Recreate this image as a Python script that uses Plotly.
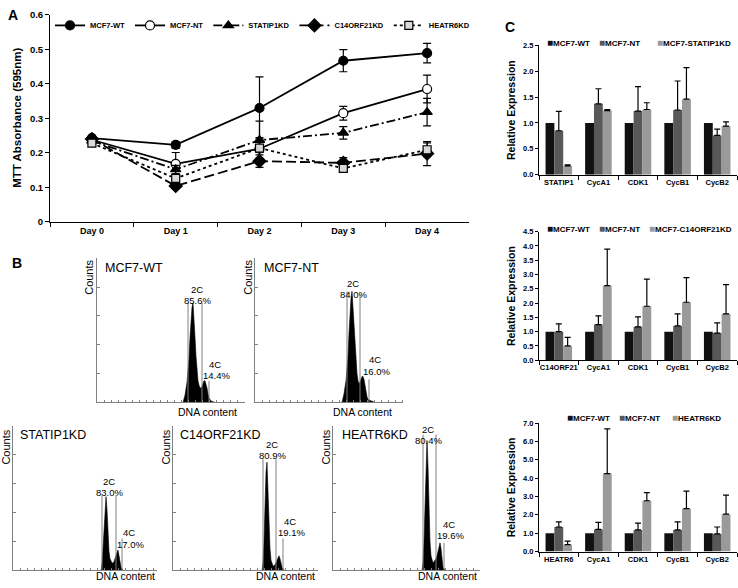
import plotly.graph_objects as go

W, H = 738, 588
FONT = "Liberation Sans, Arial, sans-serif"


def px(x):
    return x / W


def py(y):
    return 1 - y / H


# ---------------- Panel A data (MTT assay) ----------------
days = ["Day 0", "Day 1", "Day 2", "Day 3", "Day 4"]
mtt_names = ["MCF7-WT", "MCF7-NT", "STATIP1KD", "C14ORF21KD", "HEATR6KD"]
wt_mean = [0.243, 0.223, 0.330, 0.467, 0.489]
wt_err = [0.005, 0.010, 0.090, 0.032, 0.028]
nt_mean = [0.238, 0.168, 0.212, 0.315, 0.385]
nt_err = [0.005, 0.033, 0.010, 0.020, 0.040]
statip1_mean = [0.235, 0.152, 0.237, 0.258, 0.318]
statip1_err = [0.005, 0.012, 0.055, 0.018, 0.040]
c14_mean = [0.240, 0.104, 0.176, 0.171, 0.198]
c14_err = [0.005, 0.006, 0.018, 0.015, 0.035]
heatr6_mean = [0.228, 0.126, 0.214, 0.155, 0.209]
heatr6_err = [0.005, 0.010, 0.030, 0.008, 0.020]

# ---------------- Panel B data (cell-cycle histograms) ----------------
hist_titles = ["MCF7-WT", "MCF7-NT", "STATIP1KD", "C14ORF21KD", "HEATR6KD"]
pct_2c = ["85.6%", "84.0%", "83.0%", "80.9%", "80.4%"]
pct_4c = ["14.4%", "16.0%", "17.0%", "19.1%", "19.6%"]

wt_chan = [86, 88, 90, 92, 93, 94, 95, 96, 97, 98, 99, 100, 101, 102, 103, 104, 105, 106, 107, 108, 109, 110, 111, 112, 114, 118]
wt_cnt = [0.0, 0.05, 0.14, 0.30, 0.45, 0.58, 0.66, 0.69, 0.60, 0.45, 0.32, 0.22, 0.15, 0.12, 0.10, 0.10, 0.11, 0.13, 0.15, 0.15, 0.13, 0.10, 0.06, 0.03, 0.01, 0.0]
nt_chan = [87, 89, 91, 93, 94, 95, 96, 97, 98, 99, 100, 101, 102, 103, 104, 105, 106, 107, 108, 109, 110, 111, 112, 113, 116, 120]
nt_cnt = [0.0, 0.06, 0.15, 0.32, 0.48, 0.62, 0.72, 0.77, 0.65, 0.50, 0.37, 0.27, 0.20, 0.15, 0.13, 0.14, 0.16, 0.18, 0.18, 0.16, 0.12, 0.07, 0.04, 0.02, 0.01, 0.0]
statip1_chan = [88, 89, 90, 91, 92, 93, 94, 95, 96, 97, 98, 99, 100, 101, 102, 103, 104, 105, 106, 107, 108, 110]
statip1_cnt = [0.0, 0.05, 0.15, 0.30, 0.45, 0.51, 0.42, 0.25, 0.13, 0.08, 0.06, 0.05, 0.05, 0.06, 0.08, 0.10, 0.13, 0.14, 0.10, 0.05, 0.02, 0.0]
c14_chan = [89, 90, 91, 92, 93, 94, 95, 96, 97, 98, 99, 100, 101, 102, 103, 104, 105, 106, 107, 108, 109, 111]
c14_cnt = [0.0, 0.05, 0.20, 0.45, 0.68, 0.75, 0.55, 0.30, 0.15, 0.07, 0.04, 0.03, 0.03, 0.04, 0.05, 0.07, 0.09, 0.10, 0.08, 0.04, 0.02, 0.0]
heatr6_chan = [89, 90, 91, 92, 93, 94, 95, 96, 97, 98, 99, 100, 101, 102, 103, 104, 105, 106, 107, 108, 109, 110, 112]
heatr6_cnt = [0.0, 0.05, 0.20, 0.50, 0.80, 0.90, 0.72, 0.42, 0.20, 0.10, 0.06, 0.05, 0.06, 0.07, 0.08, 0.10, 0.14, 0.18, 0.19, 0.15, 0.07, 0.02, 0.0]

# gate markers: channel positions and heights
wt_gate_chan = [91, 105, 112]
wt_gate_h = [0.69, 0.69, 0.15]
nt_gate_chan = [92, 105, 114]
nt_gate_h = [0.77, 0.75, 0.16]
statip1_gate_chan = [89, 103, 109]
statip1_gate_h = [0.52, 0.52, 0.22]
c14_gate_chan = [90, 103, 110]
c14_gate_h = [0.77, 0.77, 0.22]
heatr6_gate_chan = [90, 103, 111]
heatr6_gate_h = [0.94, 0.94, 0.19]

# ---------------- Panel C data (qPCR) ----------------
bar_groups = ["MCF7-WT", "MCF7-NT"]
c1_genes = ["STATIP1", "CycA1", "CDK1", "CycB1", "CycB2"]
c1_kd_name = "MCF7-STATIP1KD"
c1_wt = [1.0, 1.0, 1.0, 1.0, 1.0]
c1_nt = [0.85, 1.37, 1.23, 1.25, 0.76]
c1_nt_err = [0.375, 0.29, 0.47, 0.56, 0.12]
c1_kd = [0.17, 1.24, 1.26, 1.46, 0.94]
c1_kd_err = [0.02, 0.02, 0.13, 0.61, 0.08]

c2_genes = ["C14ORF21", "CycA1", "CDK1", "CycB1", "CycB2"]
c2_kd_name = "MCF7-C14ORF21KD"
c2_wt = [1.0, 1.0, 1.0, 1.0, 1.0]
c2_nt = [1.0, 1.25, 1.17, 1.20, 0.95]
c2_nt_err = [0.27, 0.30, 0.35, 0.42, 0.36]
c2_kd = [0.50, 2.61, 1.89, 2.03, 1.62]
c2_kd_err = [0.30, 1.28, 0.95, 0.86, 1.03]

c3_genes = ["HEATR6", "CycA1", "CDK1", "CycB1", "CycB2"]
c3_kd_name = "HEATR6KD"
c3_wt = [1.0, 1.0, 1.0, 1.0, 1.0]
c3_nt = [1.34, 1.21, 1.18, 1.18, 0.96]
c3_nt_err = [0.28, 0.38, 0.37, 0.44, 0.38]
c3_kd = [0.375, 4.25, 2.77, 2.34, 2.04]
c3_kd_err = [0.20, 2.43, 0.44, 0.95, 1.03]

# ======================================================================
fig = go.Figure()

# ---------- Panel A traces ----------
a_series = [wt_mean, nt_mean, statip1_mean, c14_mean, heatr6_mean]
a_errors = [wt_err, nt_err, statip1_err, c14_err, heatr6_err]
a_styles = [
    dict(dash="solid", symbol="circle", fill="black", size=9),
    dict(dash="solid", symbol="circle", fill="white", size=9),
    dict(dash="9px,3px,2px,3px", symbol="triangle-up", fill="black", size=9),
    dict(dash="10px,4px", symbol="diamond", fill="black", size=10),
    dict(dash="3px,3px", symbol="square", fill="#d9d9d9", size=8),
]
for name, ys, es, st in zip(mtt_names, a_series, a_errors, a_styles):
    fig.add_trace(go.Scatter(
        x=days, y=ys, name=name, mode="lines+markers",
        line=dict(color="black", width=1.8, dash=st["dash"]),
        marker=dict(symbol=st["symbol"], size=st["size"], color=st["fill"],
                    line=dict(color="black", width=1.2)),
        error_y=dict(type="data", array=es, color="black", thickness=1.2, width=4),
        xaxis="x", yaxis="y", legend="legend",
    ))

# ---------- Panel B traces ----------
hist_chan = [wt_chan, nt_chan, statip1_chan, c14_chan, heatr6_chan]
hist_cnt = [wt_cnt, nt_cnt, statip1_cnt, c14_cnt, heatr6_cnt]
gate_chan = [wt_gate_chan, nt_gate_chan, statip1_gate_chan, c14_gate_chan, heatr6_gate_chan]
gate_h = [wt_gate_h, nt_gate_h, statip1_gate_h, c14_gate_h, heatr6_gate_h]
for i in range(5):
    ax = str(i + 2)
    fig.add_trace(go.Scatter(
        x=hist_chan[i], y=hist_cnt[i], mode="lines", fill="tozeroy",
        line=dict(color="black", width=0.6), fillcolor="black",
        showlegend=False, xaxis="x" + ax, yaxis="y" + ax, hoverinfo="skip",
    ))
    gx, gy = [], []
    for c, h in zip(gate_chan[i], gate_h[i]):
        gx += [c, c, None]
        gy += [0, h, None]
    fig.add_trace(go.Scatter(
        x=gx, y=gy, mode="lines", line=dict(color="#808080", width=1),
        showlegend=False, xaxis="x" + ax, yaxis="y" + ax, hoverinfo="skip",
    ))

# ---------- Panel C traces ----------
bar_colors = ["#111111", "#585858", "#9a9a9a"]
c_sets = [
    (c1_genes, c1_kd_name, c1_wt, c1_nt, c1_nt_err, c1_kd, c1_kd_err),
    (c2_genes, c2_kd_name, c2_wt, c2_nt, c2_nt_err, c2_kd, c2_kd_err),
    (c3_genes, c3_kd_name, c3_wt, c3_nt, c3_nt_err, c3_kd, c3_kd_err),
]
for j, (genes, kdname, wt, nt, nte, kd, kde) in enumerate(c_sets):
    ax = str(j + 7)
    names = bar_groups + [kdname]
    vals = [wt, nt, kd]
    errs = [None, nte, kde]
    for k in range(3):
        ey = None
        if errs[k] is not None:
            ey = dict(type="data", array=errs[k], arrayminus=[0] * len(errs[k]),
                      symmetric=False, color="black", thickness=1.2, width=3)
        fig.add_trace(go.Bar(
            x=genes, y=vals[k], name=names[k], marker=dict(color=bar_colors[k], line=dict(width=0)),
            error_y=ey, showlegend=False, xaxis="x" + ax, yaxis="y" + ax,
        ))

# ======================================================================
layout = dict(
    width=W, height=H, margin=dict(l=0, r=0, t=0, b=0),
    paper_bgcolor="white", plot_bgcolor="white",
    font=dict(family=FONT, color="black"),
    barmode="group", bargap=0.33, bargroupgap=0,
    legend=dict(orientation="h", x=px(50), y=py(5), xanchor="left", yanchor="top",
                font=dict(size=7.5, weight="bold"), itemwidth=30, bgcolor="rgba(0,0,0,0)",
                tracegroupgap=0, itemclick=False),
)

# Panel A axes
layout["xaxis"] = dict(domain=[px(50), px(469)], anchor="y", type="category", range=[-0.5, 4.5],
                       tickson="boundaries", ticks="outside", ticklen=4, tickcolor="black",
                       showline=True, linecolor="black", linewidth=1, showgrid=False,
                       tickfont=dict(size=9, weight="bold"))
layout["yaxis"] = dict(domain=[py(220), py(9)], anchor="x", range=[0, 0.6], dtick=0.1,
                       ticks="outside", ticklen=4, tickcolor="black", showline=True,
                       linecolor="black", linewidth=1, showgrid=False, zeroline=False,
                       tickfont=dict(size=9.5, weight="bold"))

# Panel B axes
b_dom = [
    (97, 245, 257, 404),
    (255, 403, 257, 404),
    (13, 157, 428, 575),
    (173, 318, 428, 575),
    (333, 480, 428, 575),
]
for i, (x0, x1, y0, y1) in enumerate(b_dom):
    ax = str(i + 2)
    layout["xaxis" + ax] = dict(domain=[px(x0), px(x1)], anchor="y" + ax, range=[0, x1 - x0],
                                showline=True, linecolor="#808080", linewidth=1, showgrid=False,
                                zeroline=False, ticks="inside", ticklen=2, dtick=7,
                                tickcolor="#808080", showticklabels=False)
    layout["yaxis" + ax] = dict(domain=[py(y1), py(y0)], anchor="x" + ax, range=[0, 1],
                                showline=True, linecolor="#808080", linewidth=1, showgrid=False,
                                zeroline=False, ticks="inside", ticklen=3, dtick=0.2,
                                tickcolor="#808080", showticklabels=False)

# Panel C axes
c_dom = [(40, 172, 2.5, 0.5), (230, 361, 4.5, 0.5), (425, 556, 7.0, 1.0)]
for j, (y0, y1, ymax, dt) in enumerate(c_dom):
    ax = str(j + 7)
    layout["xaxis" + ax] = dict(domain=[px(539), px(737)], anchor="y" + ax, type="category",
                                range=[-0.5, 4.5], tickson="boundaries", ticks="outside",
                                ticklen=4, tickcolor="black", showline=True, linecolor="black",
                                linewidth=1, showgrid=False, tickangle=0,
                                tickfont=dict(size=7.5, weight="bold"))
    layout["yaxis" + ax] = dict(domain=[py(y1), py(y0)], anchor="x" + ax, range=[0, ymax],
                                dtick=dt, tickformat=".1f", ticks="outside", ticklen=3,
                                tickcolor="black", showline=True, linecolor="black", linewidth=1,
                                showgrid=False, zeroline=False, tickfont=dict(size=7.5, weight="bold"))

fig.update_layout(**layout)

# ---------------- Annotations ----------------
ann = []


def text(x, y, s, size, bold=False, angle=0, xanchor="center", yanchor="middle", color="black"):
    ann.append(dict(x=px(x), y=py(y), xref="paper", yref="paper", text=s, showarrow=False,
                    textangle=angle, xanchor=xanchor, yanchor=yanchor,
                    font=dict(size=size, family=FONT, color=color,
                              weight="bold" if bold else "normal")))


# panel letters
text(6, 9, "A", 14, bold=True, xanchor="left")
text(10, 262, "B", 14, bold=True, xanchor="left")
text(503, 21, "C", 14, bold=True, xanchor="left")

# A axis title
text(17, 114, "MTT Absorbance (595nm)", 11.5, bold=True, angle=-90)

# B labels
b_title_pos = [(103, 267), (262, 267), (18, 437), (178, 437), (340, 437)]
b_counts_pos = [(89, 277), (248, 277), (6, 450), (166, 450), (326, 450)]
b_dna_pos = [(207, 414), (362, 414), (125, 581), (285, 581), (447, 581)]
b_2c_pos = [(197, 289), (353, 283), (109, 485), (272, 447), (428, 432)]
b_4c_pos = [(215, 365), (375, 360), (129, 537), (290, 525), (449, 528)]
for i in range(5):
    text(b_title_pos[i][0], b_title_pos[i][1], hist_titles[i], 12.5, xanchor="left")
    text(b_counts_pos[i][0], b_counts_pos[i][1], "Counts", 11, angle=-90)
    text(b_dna_pos[i][0], b_dna_pos[i][1], "DNA content", 10.5)
    text(b_2c_pos[i][0], b_2c_pos[i][1], "2C", 9.5)
    text(b_2c_pos[i][0], b_2c_pos[i][1] + 11, pct_2c[i], 9.5)
    text(b_4c_pos[i][0], b_4c_pos[i][1], "4C", 9.5)
    text(b_4c_pos[i][0] + 1, b_4c_pos[i][1] + 12, pct_4c[i], 9.5)

# C axis titles
for (y0, y1, _, _) in c_dom:
    text(511, (y0 + y1) / 2, "Relative Expression", 10.5, bold=True, angle=-90)

# C legends
c_leg_y = [37, 227, 419]
c_leg_x = [(545, 597, 655), (545, 597, 647), (565, 617, 670)]
c_leg_names = [bar_groups + [c1_kd_name], bar_groups + [c2_kd_name], bar_groups + [c3_kd_name]]
for j in range(3):
    for k in range(3):
        text(c_leg_x[j][k], c_leg_y[j],
             "<span style='color:%s;font-size:10px'>■</span>%s" % (bar_colors[k], c_leg_names[j][k]),
             8, bold=True, xanchor="left")

fig.update_layout(annotations=ann)
fig.write_html("out.html", config={"displayModeBar": False},
               post_script="document.body.style.margin='0';document.body.style.overflow='hidden';")
